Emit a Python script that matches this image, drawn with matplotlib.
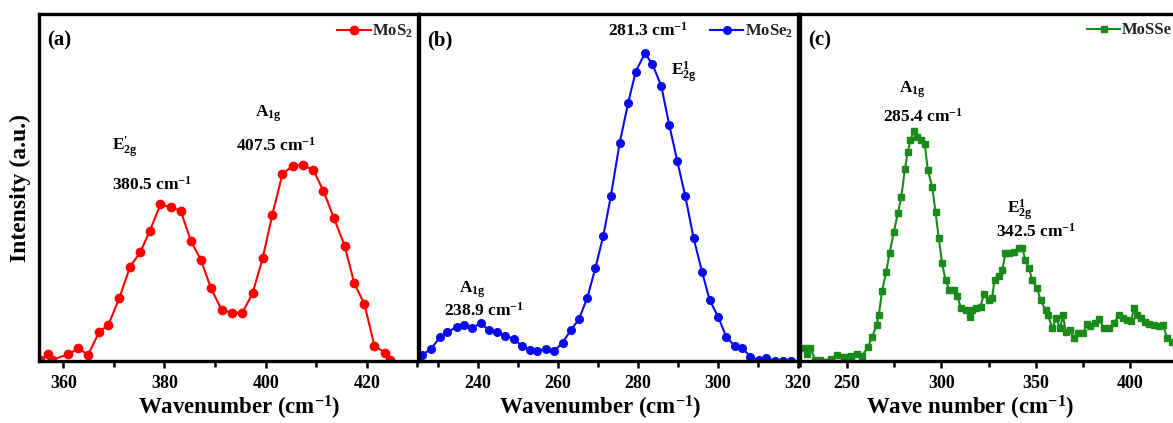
import matplotlib
matplotlib.use("Agg")
import matplotlib.pyplot as plt
from matplotlib.ticker import MultipleLocator, NullLocator

plt.rcParams['font.family'] = ['Liberation Serif', 'DejaVu Serif']
plt.rcParams['font.weight'] = 'bold'
plt.rcParams['mathtext.fontset'] = 'custom'
plt.rcParams['mathtext.rm'] = 'Liberation Serif:bold'
plt.rcParams['mathtext.bf'] = 'Liberation Serif:bold'
plt.rcParams['mathtext.it'] = 'Liberation Serif:bold'
plt.rcParams['mathtext.default'] = 'rm'

# ---- data (a) MoS2 ----
mos2_wn = [355.4, 357.0, 357.7, 361.0, 363.0, 364.9, 367.1, 368.9, 371.1, 373.2,
           375.2, 377.1, 379.2, 381.2, 383.2, 385.2, 387.2, 389.2, 391.3, 393.3,
           395.4, 397.4, 399.4, 401.3, 403.3, 405.4, 407.3, 409.4, 411.4, 413.5,
           415.6, 417.5, 419.5, 421.5, 423.6, 424.6]
mos2_int = [1.0, 6.7, 1.0, 6.7, 12.7, 6.0, 29.3, 36.0, 63.3, 94.3,
            108.7, 130.0, 156.7, 153.7, 150.3, 120.3, 101.0, 72.7, 51.0, 48.3,
            48.3, 67.7, 102.7, 146.0, 187.0, 195.3, 196.0, 191.0, 170.3, 142.7,
            115.3, 77.7, 57.0, 15.0, 8.3, 1.0]

# ---- data (b) MoSe2 ----
mose2_wn = [226.0, 228.2, 230.4, 232.3, 234.6, 236.5, 238.5, 240.6, 242.7, 244.8,
            246.8, 248.9, 251.0, 252.9, 254.8, 256.9, 259.0, 261.1, 263.2, 265.2,
            267.3, 269.3, 271.3, 273.2, 275.4, 277.5, 279.4, 281.7, 283.6, 285.8,
            287.8, 289.8, 291.8, 293.9, 296.0, 297.9, 300.0, 302.1, 304.2, 306.1,
            308.1, 310.2, 312.1, 314.3, 316.3, 318.3]
mose2_int = [6.0, 12.0, 23.7, 28.7, 34.3, 36.0, 33.3, 37.7, 31.0, 29.3,
             25.3, 22.0, 15.0, 11.0, 10.3, 12.0, 10.0, 18.3, 31.0, 41.7,
             63.3, 92.7, 125.3, 165.0, 218.3, 257.7, 289.3, 307.7, 296.7, 275.0,
             236.0, 200.0, 165.0, 122.7, 89.3, 61.0, 44.3, 23.7, 15.0, 12.7,
             4.3, 1.0, 2.7, 0.3, 0.3, 0.3]

# ---- data (c) MoSSe ----
mosse_wn = [227.9, 228.8, 230.5, 233.2, 235.8, 241.2, 244.7, 248.2, 251.8, 255.0,
            258.0, 261.0, 263.3, 265.6, 266.8, 268.6, 270.7, 272.5, 274.8, 276.9,
            278.8, 280.6, 282.2, 283.6, 285.4, 287.1, 289.3, 291.2, 292.8, 295.1,
            296.9, 298.6, 300.4, 302.2, 304.3, 306.6, 308.4, 310.5, 312.8, 315.1,
            316.3, 318.6, 320.8, 322.5, 325.2, 326.9, 328.2, 330.5, 332.3, 334.0,
            335.8, 338.4, 341.1, 342.9, 344.6, 346.4, 348.2, 350.8, 352.6, 355.3,
            356.6, 358.8, 360.9, 362.9, 364.6, 365.9, 368.2, 370.3, 372.4, 375.2,
            377.0, 379.1, 381.3, 383.6, 386.2, 388.9, 391.5, 394.2, 396.5, 398.6,
            400.7, 402.1, 403.9, 405.7, 407.8, 410.1, 412.8, 415.4, 417.7, 419.8,
            422.5]
mosse_int = [12.7, 7.0, 12.7, 1.0, 1.0, 1.7, 6.0, 3.7, 5.0, 7.0,
             5.0, 14.3, 23.7, 36.0, 46.0, 70.3, 89.3, 107.7, 129.3, 147.7,
             164.3, 191.7, 209.3, 221.0, 230.0, 224.3, 221.0, 216.7, 191.0, 174.3,
             149.3, 122.7, 97.7, 81.0, 71.0, 71.0, 65.0, 52.7, 51.0, 43.7,
             51.0, 52.7, 54.3, 67.0, 61.0, 62.7, 81.0, 85.0, 91.0, 107.7,
             107.7, 109.3, 112.7, 112.7, 101.0, 92.7, 81.0, 72.7, 61.0, 51.0,
             46.0, 32.7, 42.7, 32.7, 46.0, 29.3, 31.0, 22.7, 27.7, 27.7,
             37.0, 35.0, 38.3, 41.7, 32.7, 32.7, 37.7, 46.0, 42.7, 41.0,
             40.3, 52.7, 46.0, 42.7, 39.3, 37.0, 36.0, 35.0, 36.0, 22.7,
             19.3]

W, H = 1173, 423
fig = plt.figure(figsize=(W / 100, H / 100), dpi=100)

def px_axes(x0, x1, ytop=14, ybot=361):
    return fig.add_axes([x0 / W, (H - ybot) / H, (x1 - x0) / W, (ybot - ytop) / H])

axA = px_axes(39, 418)
axB = px_axes(419, 798)
axC = px_axes(800, 1177)

YMAX = 347

def style(ax, xlim, major, minor, letter, xlabel, xlab_x):
    ax.set_xlim(*xlim)
    ax.set_ylim(0, YMAX)
    ax.xaxis.set_major_locator(MultipleLocator(major))
    ax.xaxis.set_minor_locator(MultipleLocator(minor))
    ax.yaxis.set_major_locator(NullLocator())
    ax.yaxis.set_minor_locator(NullLocator())
    for s in ax.spines.values():
        s.set_linewidth(2.4)
    ax.tick_params(axis='x', which='both', direction='out', width=1.8,
                   labelsize=13, pad=5)
    ax.tick_params(axis='x', which='major', length=5)
    ax.tick_params(axis='x', which='minor', length=4)
    for t in ax.get_xticklabels():
        t.set_fontweight('bold')
    ax.text(0.022, 0.925, letter, transform=ax.transAxes, fontsize=15,
            fontweight='bold', va='center', ha='left')
    ax.set_xlabel(xlabel, fontsize=16.5, fontweight='bold')
    ax.xaxis.set_label_coords(xlab_x, -0.095)
    leg = ax.legend(loc='upper right', bbox_to_anchor=(1.0, 0.99), frameon=False,
                    fontsize=12, handlelength=2.0, handletextpad=0.1,
                    borderpad=0.2, borderaxespad=0.1)
    for t in leg.get_texts():
        t.set_color('#222222')

axA.plot(mos2_wn, mos2_int, color='#ff0000', marker='o', markersize=6,
         linewidth=1.5, label='MoS$_2$')
axB.plot(mose2_wn, mose2_int, color='#0a0aee', marker='o', markersize=5.5,
         linewidth=1.5, label='MoSe$_2$')
axC.plot(mosse_wn, mosse_int, color='#1a8a1a', marker='s', markersize=5,
         linewidth=1.5, label='MoSSe')

style(axA, (355.2, 430.1), 20, 10, '(a)', r'Wavenumber (cm$^{-1}$)', 0.528)
style(axB, (225.2, 320), 20, 10, '(b)', r'Wavenumber (cm$^{-1}$)', 0.478)
style(axC, (225, 425), 50, 25, '(c)', r'Wave number (cm$^{-1}$)', 0.45)

axA.set_ylabel('Intensity (a.u.)', fontsize=17, fontweight='bold', labelpad=6)

ann = dict(fontsize=12.5, fontweight='bold', ha='center', va='center')
# (a)
axA.text(372.2, 214, r"E$^{\prime}_{2g}$", **ann)
axA.text(377.5, 176, r"380.5 cm$^{-1}$", **ann)
axA.text(400.5, 247, r"A$_{1g}$", **ann)
axA.text(402.0, 215, r"407.5 cm$^{-1}$", **ann)
# (b)
axB.text(282.5, 330, r"281.3 cm$^{-1}$", **ann)
axB.text(291.5, 289, r"E$^{1}_{2g}$", **ann)
axB.text(238.5, 71, r"A$_{1g}$", **ann)
axB.text(241.5, 50, r"238.9 cm$^{-1}$", **ann)
# (c)
axC.text(284.5, 271, r"A$_{1g}$", **ann)
axC.text(290.1, 244, r"285.4 cm$^{-1}$", **ann)
axC.text(341.5, 151, r"E$^{1}_{2g}$", **ann)
axC.text(350.5, 129, r"342.5 cm$^{-1}$", **ann)

fig.savefig('out.png', dpi=100)
